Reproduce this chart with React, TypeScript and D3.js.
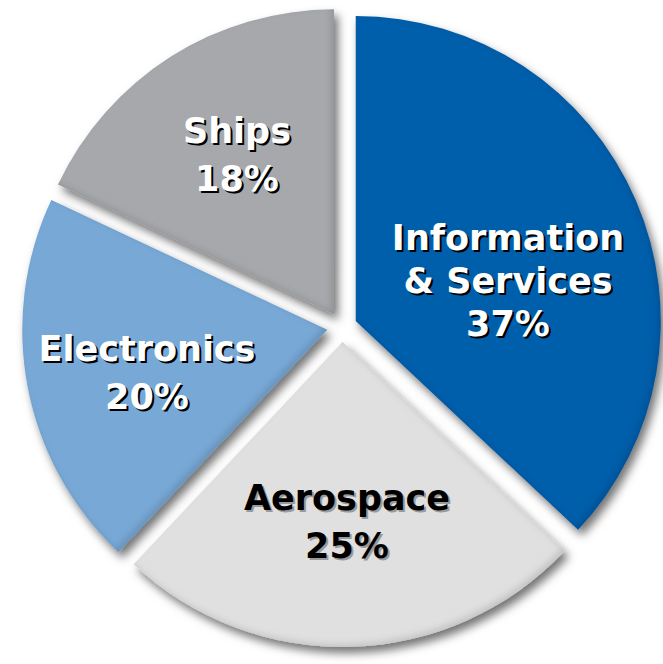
import React from "react";
import * as d3 from "d3";

const categories = ["Information & Services", "Aerospace", "Electronics", "Ships"];
const labelLines = [["Information", "& Services", "37%"], ["Aerospace", "25%"], ["Electronics", "20%"], ["Ships", "18%"]];
const values = [37, 25, 20, 18];
const colors = ["#055eab", "#e0e0e0", "#78a8d6", "#a6a8ab"];
const textColors = ["#ffffff", "#000000", "#ffffff", "#ffffff"];
const shadowColors = ["#000000", "#9a9a9a", "#000000", "#000000"];
// label anchor positions (styling)
const labelAnchors: [number, number][] = [[508, 250], [347, 510], [147, 361], [237, 143]];

const W = 663;
const H = 664;
const cx = 342;
const cy = 327;
const R = 305;
const explode = 15;

export default function App() {
  const pie = d3.pie<number>().sort(null).value((d) => d);
  const arcs = pie(values);
  const arc = d3.arc<d3.PieArcDatum<number>>().innerRadius(0).outerRadius(R);
  return (
    <div style={{ position: "absolute", left: 0, top: 0 }}>
      <svg width={W} height={H} style={{ display: "block", background: "#fff" }}>
        <defs>
          <filter id="shadow" x="-20%" y="-20%" width="140%" height="140%">
            <feDropShadow dx="4" dy="6" stdDeviation="5" floodColor="#000" floodOpacity="0.55" />
          </filter>
          <filter id="bevel" x="-10%" y="-10%" width="120%" height="120%">
            <feGaussianBlur in="SourceAlpha" stdDeviation="3" result="blur" />
            <feOffset in="blur" dx="-3" dy="-3" result="off" />
            <feComposite in="SourceAlpha" in2="off" operator="out" result="edge" />
            <feFlood floodColor="#000" floodOpacity="0.25" />
            <feComposite in2="edge" operator="in" result="dark" />
            <feMerge>
              <feMergeNode in="SourceGraphic" />
              <feMergeNode in="dark" />
            </feMerge>
          </filter>
        </defs>
        {arcs.map((a, i) => {
          const mid = (a.startAngle + a.endAngle) / 2;
          const tx = cx + Math.sin(mid) * explode;
          const ty = cy - Math.cos(mid) * explode;
          return (
            <g key={categories[i]} transform={`translate(${tx},${ty})`} filter="url(#shadow)">
              <path d={arc(a) || ""} fill={colors[i]} filter="url(#bevel)" />
            </g>
          );
        })}
        {labelLines.map((lines, i) => {
          const [lx, ly] = labelAnchors[i];
          const lh = i === 0 ? 43 : 48;
          return (
            <g key={"l" + i} fontFamily="'DejaVu Sans', Verdana, sans-serif" fontWeight="bold" fontSize={35} textAnchor="middle">
              {lines.map((t, j) => (
                <text key={"s" + j} x={lx + 2} y={ly + j * lh + 2} fill={shadowColors[i]}>{t}</text>
              ))}
              {lines.map((t, j) => (
                <text key={"t" + j} x={lx} y={ly + j * lh} fill={textColors[i]}>{t}</text>
              ))}
            </g>
          );
        })}
      </svg>
    </div>
  );
}
